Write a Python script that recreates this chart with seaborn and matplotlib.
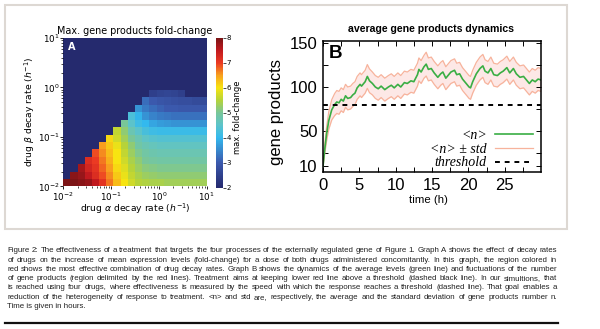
import numpy as np
import pandas as pd
import matplotlib
matplotlib.use("Agg")
import matplotlib.pyplot as plt
import seaborn as sns
from matplotlib.colors import LinearSegmentedColormap
from matplotlib.patches import Rectangle
from matplotlib.lines import Line2D
from matplotlib.font_manager import FontProperties

# ------------------------------------------------------------------ data
N = 2.0  # cells at (or below) the colour-scale minimum
# max. fold-change, rows from bottom (beta = 1e-2) to top (beta = 1e1),
# columns from left (alpha = 1e-2) to right (alpha = 1e1)
fold_change_rows = [
    [8.0, 8.0, 7.9, 7.8, 7.5, 7.1, 6.7, 6.3, 6.0, 5.7, 5.5, 5.45, 5.4, 5.4, 5.35, 5.35, 5.35, 5.35, 5.35, 5.35],
    [N, 7.9, 7.8, 7.5, 7.2, 6.9, 6.6, 6.2, 5.9, 5.6, 5.4, 5.3, 5.25, 5.2, 5.2, 5.2, 5.2, 5.2, 5.2, 5.2],
    [N, N, 7.7, 7.3, 7.1, 6.8, 6.5, 6.1, 5.8, 5.5, 5.3, 5.15, 5.1, 5.05, 5.05, 5.05, 5.05, 5.05, 5.05, 5.05],
    [N, N, N, 7.2, 7.0, 6.7, 6.4, 6.0, 5.7, 5.4, 5.2, 5.0, 4.95, 4.9, 4.9, 4.9, 4.9, 4.9, 4.9, 4.9],
    [N, N, N, N, 6.9, 6.6, 6.3, 6.0, 5.6, 5.3, 5.05, 4.9, 4.8, 4.75, 4.75, 4.75, 4.75, 4.75, 4.75, 4.75],
    [N, N, N, N, N, 6.5, 6.2, 5.9, 5.5, 5.2, 4.9, 4.75, 4.65, 4.6, 4.6, 4.6, 4.6, 4.6, 4.6, 4.6],
    [N, N, N, N, N, N, 6.1, 5.7, 5.35, 5.0, 4.75, 4.55, 4.45, 4.4, 4.4, 4.4, 4.4, 4.4, 4.4, 4.4],
    [N, N, N, N, N, N, N, 5.6, 5.2, 4.75, 4.5, 4.25, 4.15, 4.1, 4.1, 4.1, 4.1, 4.1, 4.1, 4.1],
    [N, N, N, N, N, N, N, N, 5.0, 4.5, 4.15, 4.0, 3.8, 3.7, 3.65, 3.6, 3.6, 3.6, 3.6, 3.6],
    [N, N, N, N, N, N, N, N, N, 4.3, 3.95, 3.6, 3.45, 3.35, 3.3, 3.25, 3.25, 3.25, 3.25, 3.25],
    [N, N, N, N, N, N, N, N, N, N, 3.6, 3.35, 3.2, 3.1, 3.0, 3.0, 2.95, 2.95, 2.95, 2.95],
    [N, N, N, N, N, N, N, N, N, N, N, 3.2, 3.0, 2.9, 2.85, 2.8, 2.75, 2.75, 2.7, 2.7],
    [N, N, N, N, N, N, N, N, N, N, N, N, 2.45, 2.55, 2.6, 2.55, 2.45, N, N, N],
    [N] * 20, [N] * 20, [N] * 20, [N] * 20, [N] * 20, [N] * 20, [N] * 20,
]
decade_exponents = [-2, -1, 0, 1]
decade_labels = ["$10^{-2}$", "$10^{-1}$", "$10^{0}$", "$10^{1}$"]
cbar_ticks = [2, 3, 4, 5, 6, 7, 8]

time_h = [0.0, 0.25, 0.5, 0.8, 1.2, 1.6, 1.9, 2.2, 2.5, 2.8, 3.1, 3.4, 3.8, 4.1, 4.4, 4.7,
          5.1, 5.3, 5.8, 6.1, 6.4, 6.8, 7.2, 7.6, 8.0, 8.5, 9.0, 9.4, 9.8, 10.3, 10.7,
          11.2, 11.6, 12.1, 12.5, 13.0, 13.2, 13.5, 13.9, 14.2, 14.5, 14.9, 15.3, 15.8,
          16.2, 16.5, 16.9, 17.3, 17.6, 18.1, 18.4, 18.8, 19.2, 19.7, 20.1, 20.3, 20.6,
          21.1, 21.6, 22.0, 22.3, 22.7, 23.1, 23.5, 24.0, 24.4, 24.8, 25.3, 25.7, 26.2,
          26.6, 27.1, 27.6, 28.0, 28.4, 28.8, 29.2, 29.6, 30.0]
mean_n = [10, 30, 47, 62, 74, 80, 83, 82, 86, 84, 90, 87, 88, 91, 93, 99,
          103, 101, 106, 112, 107, 104, 100, 98, 101, 97, 100, 102, 99, 103, 100,
          105, 104, 107, 106, 114, 120, 117, 123, 126, 120, 121, 116, 111,
          115, 117, 110, 114, 117, 119, 114, 115, 109, 104, 100, 99, 106,
          115, 121, 124, 118, 116, 121, 114, 113, 116, 118, 122, 116, 121,
          115, 111, 112, 108, 104, 108, 106, 109, 108]
std_n = [0, 5, 8, 10, 11.5, 12.5, 13, 13, 13, 13, 13, 13, 13, 13, 13, 13,
         13, 13, 13, 13.5, 13.5, 13, 13, 13, 13, 13, 13, 13, 13, 13, 13,
         13, 13, 13, 13, 13, 13, 13, 13, 13.5, 13, 13, 13, 13,
         13, 13, 13, 13, 13, 13, 13, 13, 13, 13, 13, 13, 13,
         13, 13, 13, 13, 13, 13, 13, 13, 13, 13, 13, 13, 13,
         13, 13, 13, 13, 13, 13, 13, 13, 13]
threshold = 80
time_ticks = [0, 5, 10, 15, 20, 25]
gene_ticks = [10, 50, 100, 150]

caption_lines = [
    "Figure 2: The effectiveness of a treatment that targets the four processes of the externally regulated gene of Figure 1. Graph A shows the effect of decay rates",
    "of drugs on the increase of mean expression levels (fold-change) for a dose of both drugs administered concomitantly. In this graph, the region colored in",
    "red shows the most effective combination of drug decay rates. Graph B shows the dynamics of the average levels (green line) and fluctuations of the number",
    "of gene products (region delimited by the red lines). Treatment aims at keeping lower red line above a threshold (dashed black line). In our simultions, that",
    "is reached using four drugs, where effectiveness is measured by the speed with which the response reaches a threshold (dashed line). That goal enables a",
    "reduction of the heterogeneity of response to treatment. <n> and std are, respectively, the average and the standard deviation of gene products number n.",
    "Time is given in hours.",
]

# ------------------------------------------------------------------ figure
W, H = 600, 329
fig = plt.figure(figsize=(W / 100, H / 100), dpi=100)
fig.patch.set_facecolor("white")
plt.rcParams["font.family"] = ["DejaVu Sans"]

def fx(px):
    return px / W

def fy(py):
    return 1 - py / H

cap_font = "Liberation Sans"
sans_b = "Liberation Sans"

# outer frame
fig.add_artist(Rectangle((fx(5), fy(229)), fx(562), 224 / H, transform=fig.transFigure,
                         fill=False, ec="#ddd8d3", lw=1.5))

# ------------------------------------------------------------------ panel A
cmap = LinearSegmentedColormap.from_list("fc", [
    (0.0, "#252a6e"), (0.167, "#3b5aae"), (0.333, "#33b9ee"), (0.42, "#5ec4c8"),
    (0.5, "#78c69a"), (0.583, "#b5d33a"), (0.667, "#f7e411"), (0.75, "#f8a21e"),
    (0.833, "#ec3b23"), (0.92, "#c0191f"), (1.0, "#7c1416")])

axA = fig.add_axes([fx(63.3), fy(186.5), fx(143.4), 148.5 / H])
caxA = fig.add_axes([fx(216), fy(187.5), fx(7), 149.5 / H])
dfA = pd.DataFrame(fold_change_rows)
sns.heatmap(dfA, ax=axA, cbar_ax=caxA, cmap=cmap, vmin=2, vmax=8,
            xticklabels=False, yticklabels=False, cbar_kws={"ticks": cbar_ticks})
axA.invert_yaxis()
ncell = len(fold_change_rows)
span = decade_exponents[-1] - decade_exponents[0]
major_pos = [(e - decade_exponents[0]) * ncell / span for e in decade_exponents]
minor_pos = [(np.log10(k) + e - decade_exponents[0]) * ncell / span
             for e in decade_exponents[:-1] for k in range(2, 10)]
for axis in (axA.xaxis, axA.yaxis):
    axis.set_ticks(major_pos)
    axis.set_ticks(minor_pos, minor=True)
axA.set_xticklabels(decade_labels, fontsize=6.3)
axA.set_yticklabels(decade_labels, fontsize=6.3, rotation=0)
axA.tick_params(which="major", direction="out", length=2.5, width=0.6, pad=0.3)
axA.tick_params(which="minor", direction="out", length=1.5, width=0.5)
axA.text(0.035, 0.975, "A", transform=axA.transAxes, color="white", fontsize=7,
         fontweight="bold", ha="left", va="top")
fig.text(fx(135), fy(31), "Max. gene products fold-change", fontsize=6.9,
         ha="center", va="center")
fig.text(fx(30), fy(112), "drug $\\beta$ decay rate ($h^{-1}$)", fontsize=6.7,
         rotation=90, ha="center", va="center")
fig.text(fx(135), fy(208.8), "drug $\\alpha$ decay rate ($h^{-1}$)", fontsize=6.7,
         ha="center", va="center")
caxA.tick_params(labelsize=5, length=2, width=0.5, pad=0.5)
cb = axA.collections[0].colorbar
if cb is not None:
    cb.outline.set_linewidth(0)
fig.text(fx(238), fy(117), "max. fold-change", fontsize=6, rotation=90,
         ha="center", va="center")

# ------------------------------------------------------------------ panel B
axB = fig.add_axes([fx(323), fy(172), fx(218), 131.3 / H])
t_arr = np.array(time_h)
m_arr = np.array(mean_n, dtype=float)
s_arr = np.array(std_n, dtype=float)
green = "#3aae44"
salmon = "#f7b39c"
axB.fill_between(t_arr, m_arr - s_arr, m_arr + s_arr, color="#fde8e6", lw=0)
sns.lineplot(x=t_arr, y=m_arr + s_arr, ax=axB, color=salmon, lw=0.9,
             estimator=None, label="<n> ± std")
sns.lineplot(x=t_arr, y=m_arr - s_arr, ax=axB, color=salmon, lw=0.9, estimator=None)
sns.lineplot(x=t_arr, y=m_arr, ax=axB, color=green, lw=1.2, estimator=None, label="<n>")
axB.axhline(threshold, color="black", lw=1.4, ls=(0, (2.5, 2.5)), label="threshold")
axB.set_xlim(0, 30)
axB.set_ylim(3.4, 152.6)
axB.set_xticks(time_ticks)
axB.set_xticks([2.5 + 5 * i for i in range(6)], minor=True)
axB.set_yticks(gene_ticks)
axB.set_yticks([25, 75, 125], minor=True)
axB.tick_params(which="both", direction="in", top=True, right=True, length=3.5,
                width=0.7, labelsize=12)
axB.tick_params(axis="x", pad=4)
axB.tick_params(axis="y", pad=4)
for lab in axB.get_xticklabels() + axB.get_yticklabels():
    lab.set_fontfamily(sans_b)
for sp in axB.spines.values():
    sp.set_linewidth(1.1)
    sp.set_color("black")
axB.set_xlabel("time (h)", fontsize=8.2, fontfamily=sans_b)
axB.xaxis.set_label_coords(0.482, -0.213)
axB.xaxis.label.set_va("center")
axB.set_ylabel("gene products", fontsize=12, fontfamily=sans_b)
axB.yaxis.set_label_coords((276 - 323) / 218, 0.455)
axB.yaxis.label.set_va("center")
axB.text(0.028, 0.967, "B", transform=axB.transAxes, fontsize=13.5,
         fontweight="bold", fontfamily=sans_b, ha="left", va="top")
fig.text(fx(431), fy(29), "average gene products dynamics", fontsize=7.6,
         fontweight="bold", fontfamily=sans_b, ha="center", va="center")

handles, labels = axB.get_legend_handles_labels()
order = ["<n>", "<n> ± std", "threshold"]
hmap = dict(zip(labels, handles))
leg = axB.legend([hmap[k] for k in order], order, loc="lower right",
                 bbox_to_anchor=(0.962, 0.02), frameon=False, markerfirst=False,
                 prop=FontProperties(family="Liberation Serif", style="italic", size=10),
                 handlelength=2.7, handletextpad=0.6, labelspacing=0.05,
                 borderaxespad=0, borderpad=0)

# ------------------------------------------------------------------ caption
renderer = fig.canvas.get_renderer()
REF = 10.0

def width_of(s, size):
    t = fig.text(0, 0, s, fontsize=size, family=cap_font)
    w = t.get_window_extent(renderer=renderer).width
    t.remove()
    return w

cap_left, cap_right = 7.3, 557.0
target = cap_right - cap_left
min_gap = 2.0
word_w = [[width_of(w, REF) / REF for w in line.split(" ")] for line in caption_lines]
limits = [(target - min_gap * (len(ws) - 1)) / sum(ws) for ws in word_w[:-1]]
cap_size = min(min(limits), 6.0)
# re-measure each word at the final size so that the gaps are exact
word_px = [[width_of(w, cap_size) for w in line.split(" ")] for line in caption_lines]
worst = max(sum(ws) + min_gap * (len(ws) - 1) for ws in word_px[:-1])
if worst > target:
    cap_size *= target / worst
    word_px = [[width_of(w, cap_size) for w in line.split(" ")] for line in caption_lines]
cap_base = [252.2, 261.5, 270.8, 280.1, 289.4, 298.6, 307.8]
for i, (line, yy) in enumerate(zip(caption_lines, cap_base)):
    if i == len(caption_lines) - 1:
        fig.text(fx(cap_left), fy(yy), line, fontsize=cap_size, family=cap_font,
                 ha="left", va="baseline", color="#222222")
        continue
    words = line.split(" ")
    ws = word_px[i]
    gap = (target - sum(ws)) / (len(words) - 1)
    x = cap_left
    for w, wd in zip(words, ws):
        fig.text(fx(x), fy(yy), w, fontsize=cap_size, family=cap_font,
                 ha="left", va="baseline", color="#222222")
        x += wd + gap

fig.add_artist(Line2D([fx(5), fx(558)], [fy(323), fy(323)], transform=fig.transFigure,
                      color="#111111", lw=1.6))

fig.savefig("out.png", dpi=100, facecolor="white")
